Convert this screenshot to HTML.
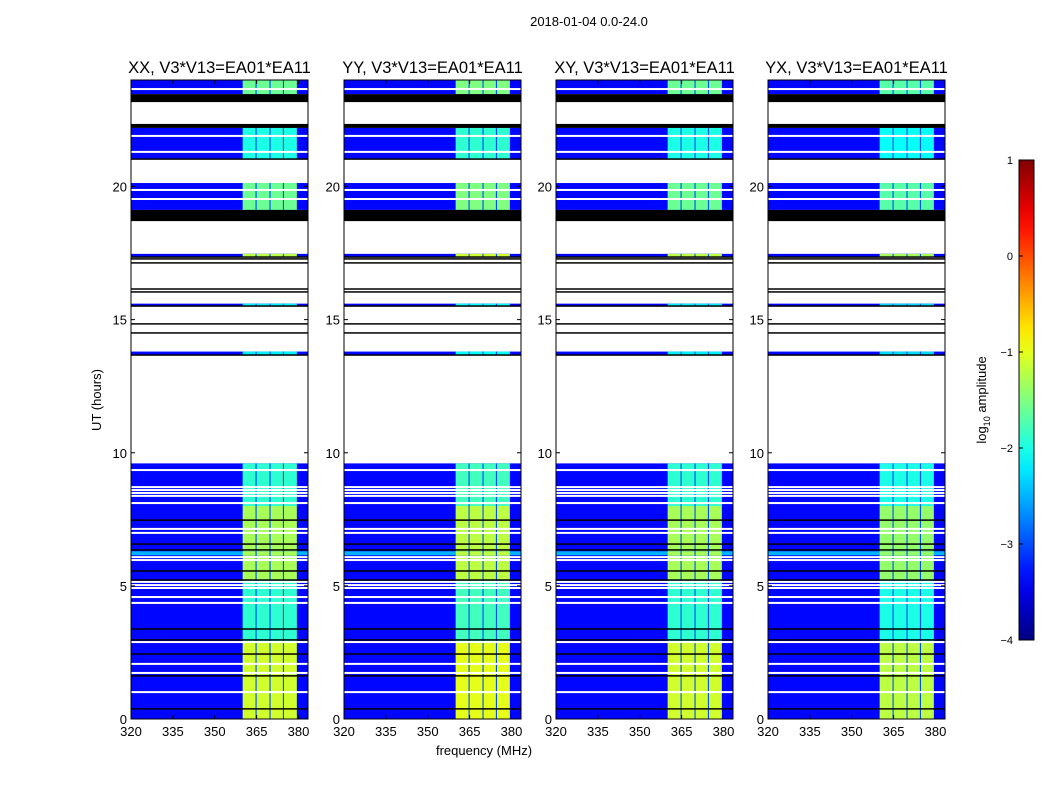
<!DOCTYPE html>
<html><head><meta charset="utf-8"><style>
body{margin:0;background:#fff;width:1050px;height:800px;overflow:hidden;font-family:"Liberation Sans",sans-serif}
svg text{font-family:"Liberation Sans",sans-serif}
</style></head><body>
<svg id="fig" width="1050" height="800" xmlns="http://www.w3.org/2000/svg">
<text x="589" y="26" font-size="13" text-anchor="middle">2018-01-04 0.0-24.0</text>
<text x="0" y="0" font-size="13" text-anchor="middle" transform="translate(101,400) rotate(-90)">UT (hours)</text>
<text x="484" y="755" font-size="13" text-anchor="middle">frequency (MHz)</text>
<g id="panels"></g>
<g id="cbar"></g>
</svg>
<script>
const titles=["XX, V3*V13=EA01*EA11","YY, V3*V13=EA01*EA11","XY, V3*V13=EA01*EA11","YX, V3*V13=EA01*EA11"];
const panelBandOffset=[0,0.1,0,-0.1];
const dataSpans=[[23.47,24,-3.35,-1.6],[21.05,22.2,-3.35,-2.0],[19.12,20.13,-3.35,-1.6],[17.35,17.47,-3.35,-1.2],[15.5,15.6,-3.4,-2.2],[13.67,13.8,-3.35,-2.2],[8.0,9.6,-3.35,-1.9],[5.2,8.0,-3.35,-1.3],[2.9,5.2,-3.35,-1.9],[0,2.9,-3.35,-1.1],[6.15,6.3,-2.5,-1.3]];
const bandEdges=[[360,364.6],[365,369.6],[370,374.4],[374.8,379.4]];
const dividerValue=-3.0;
const whiteLines=[23.66,21.9,21.3,19.87,19.53,9.35,8.71,8.6,8.49,8.38,8.11,7.14,6.99,6.08,5.97,5.15,5.03,4.92,4.58,4.36,2.89,2.07,1.73,1.01];
const blackLines=[21.03,17.35,17.28,17.13,16.15,16.04,15.51,14.84,14.5,13.67,7.47,6.57,6.35,5.56,5.22,3.38,2.97,2.44,1.62,0.38];
const blackBlocks=[[23.17,23.47],[22.2,22.35],[18.7,19.12]];
const yTicks=[0,5,10,15,20];
const xTicks=[320,335,350,365,380];
const cbTicks=[1,0,-1,-2,-3,-4];
const cbLabels=["1","0","\u22121","\u22122","\u22123","\u22124"];

const NS="http://www.w3.org/2000/svg";
const panelX=[131,344,556,768], PW=177, PT=80, PB=719;
const fMin=320,fMax=383.4,hMax=24,vMin=-4,vMax=1;
function jet(v){let t=(v-vMin)/(vMax-vMin);t=Math.max(0,Math.min(1,t));
 const c=x=>Math.round(255*Math.max(0,Math.min(1,1.5-Math.abs(4*t-x))));
 return `rgb(${c(3)},${c(2)},${c(1)})`;}
function mk(tag,attrs,parent){const e=document.createElementNS(NS,tag);for(const k in attrs)e.setAttribute(k,attrs[k]);parent.appendChild(e);return e;}
const root=document.getElementById('panels');
panelX.forEach((x0,pi)=>{
 const xs=f=>x0+(f-fMin)/(fMax-fMin)*PW;
 const ys=h=>PB-h/hMax*(PB-PT);
 const g=mk('g',{},root);
 
 
 dataSpans.forEach(s=>{
  const y1=ys(s[1]),y2=ys(s[0]);
  const r=mk('rect',{x:x0,y:y1,width:PW,height:y2-y1,fill:jet(s[2])},g);
  
  
  const d=mk('rect',{x:xs(bandEdges[0][0]),y:y1,width:xs(bandEdges[bandEdges.length-1][1])-xs(bandEdges[0][0]),height:y2-y1,fill:jet(dividerValue)},g);
  
  
  bandEdges.forEach(b=>{
   const br=mk('rect',{x:xs(b[0]),y:y1,width:xs(b[1])-xs(b[0]),height:y2-y1,fill:jet(s[3]+panelBandOffset[pi])},g);
   
   
  });
 });
 whiteLines.forEach(h=>{const l=mk('rect',{x:x0,y:ys(h)-1,width:PW,height:2,fill:'#fff'},g);
  
  });
 blackLines.forEach(h=>{const l=mk('rect',{x:x0,y:ys(h)-0.75,width:PW,height:1.5,fill:'#000'},g);
  
  });
 blackBlocks.forEach(b=>{const l=mk('rect',{x:x0,y:ys(b[1]),width:PW,height:ys(b[0])-ys(b[1]),fill:'#000'},g);
  
  });
 const fr=mk('rect',{x:x0,y:PT,width:PW,height:PB-PT,fill:'none',stroke:'#000','stroke-width':1},g);
 
 
 const t=mk('text',{x:x0+PW/2,y:PT-7,'font-size':16.5,'text-anchor':'middle'},g);t.textContent=titles[pi];
 
 
 yTicks.forEach(v=>{const y=ys(v);
  mk('line',{x1:x0,x2:x0+4,y1:y,y2:y,stroke:'#000'},g);mk('line',{x1:x0+PW-4,x2:x0+PW,y1:y,y2:y,stroke:'#000'},g);
  const tl=mk('text',{x:x0-4,y:y+5,'font-size':13,'text-anchor':'end'},g);tl.textContent=v;
  
  });
 xTicks.forEach(v=>{const x=xs(v);
  mk('line',{x1:x,x2:x,y1:PB,y2:PB-4,stroke:'#000'},g);mk('line',{x1:x,x2:x,y1:PT,y2:PT+4,stroke:'#000'},g);
  const tl=mk('text',{x:x,y:PB+17,'font-size':13,'text-anchor':'middle'},g);tl.textContent=v;
  
  });
});
const cb=document.getElementById('cbar');
const CX=1019,CW=15,CT=160,CB=640;
const defs=mk('defs',{},cb);const lg=mk('linearGradient',{id:'jetg',x1:0,y1:1,x2:0,y2:0},defs);
for(let i=0;i<=20;i++){mk('stop',{offset:i/20,'stop-color':jet(vMin+(vMax-vMin)*i/20)},lg);}
mk('rect',{x:CX,y:CT,width:CW,height:CB-CT,fill:'url(#jetg)',stroke:'#000'},cb);
const cys=v=>CB-(v-vMin)/(vMax-vMin)*(CB-CT);
cbTicks.forEach((v,i)=>{const y=cys(v);
 mk('line',{x1:CX,x2:CX+4,y1:y,y2:y,stroke:'#000'},cb);
 const tl=mk('text',{x:CX-6,y:y+4,'font-size':11,'text-anchor':'end'},cb);tl.textContent=cbLabels[i];
 
 });
const ct=mk('text',{'font-size':13,'text-anchor':'middle',transform:'translate(986,400) rotate(-90)'},cb);
ct.innerHTML='log<tspan font-size="9" dy="4">10</tspan><tspan dy="-4"> amplitude</tspan>';


</script>
</body></html>
